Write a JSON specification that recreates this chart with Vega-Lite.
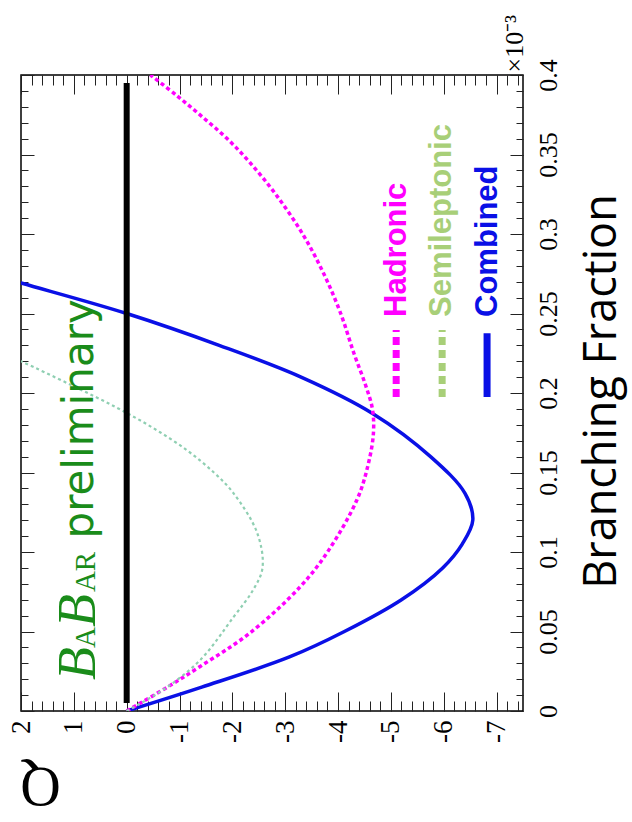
{
  "$schema": "https://vega.github.io/schema/vega-lite/v6.json",
  "width": 502,
  "height": 636,
  "autosize": {"type": "none"},
  "padding": {"left": 21, "top": 75, "right": 109, "bottom": 111},
  "background": "white",
  "config": {
    "view": {"stroke": "#000", "strokeWidth": 1.5},
    "axis": {
      "grid": false,
      "domain": false,
      "tickColor": "#222",
      "tickWidth": 1,
      "labelFlush": false,
      "labelOverlap": false,
      "labelBound": false,
      "labelColor": "#000",
      "titleColor": "#000"
    }
  },
  "datasets": {
    "curves": [
      {"series": "Combined", "bf": 0, "q": 0},
      {"series": "Combined", "bf": 0.015, "q": -1.42},
      {"series": "Combined", "bf": 0.034, "q": -3.08},
      {"series": "Combined", "bf": 0.05, "q": -4.12},
      {"series": "Combined", "bf": 0.07, "q": -5.2},
      {"series": "Combined", "bf": 0.09, "q": -5.98},
      {"series": "Combined", "bf": 0.105, "q": -6.35},
      {"series": "Combined", "bf": 0.12, "q": -6.55},
      {"series": "Combined", "bf": 0.137, "q": -6.4},
      {"series": "Combined", "bf": 0.16, "q": -5.75},
      {"series": "Combined", "bf": 0.187, "q": -4.66},
      {"series": "Combined", "bf": 0.21, "q": -3.3},
      {"series": "Combined", "bf": 0.23, "q": -1.75},
      {"series": "Combined", "bf": 0.25, "q": 0},
      {"series": "Combined", "bf": 0.269, "q": 1.98},
      {"series": "Combined", "bf": 0.275, "q": 2.6},
      {"series": "Hadronic", "bf": 0, "q": 0},
      {"series": "Hadronic", "bf": 0.014, "q": -0.72},
      {"series": "Hadronic", "bf": 0.028, "q": -1.39},
      {"series": "Hadronic", "bf": 0.049, "q": -2.33},
      {"series": "Hadronic", "bf": 0.078, "q": -3.28},
      {"series": "Hadronic", "bf": 0.1, "q": -3.8},
      {"series": "Hadronic", "bf": 0.133, "q": -4.36},
      {"series": "Hadronic", "bf": 0.155, "q": -4.57},
      {"series": "Hadronic", "bf": 0.175, "q": -4.67},
      {"series": "Hadronic", "bf": 0.19, "q": -4.65},
      {"series": "Hadronic", "bf": 0.205, "q": -4.52},
      {"series": "Hadronic", "bf": 0.225, "q": -4.3},
      {"series": "Hadronic", "bf": 0.25, "q": -4.05},
      {"series": "Hadronic", "bf": 0.275, "q": -3.73},
      {"series": "Hadronic", "bf": 0.3, "q": -3.33},
      {"series": "Hadronic", "bf": 0.325, "q": -2.82},
      {"series": "Hadronic", "bf": 0.345, "q": -2.33},
      {"series": "Hadronic", "bf": 0.36, "q": -1.9},
      {"series": "Hadronic", "bf": 0.374, "q": -1.42},
      {"series": "Hadronic", "bf": 0.387, "q": -0.95},
      {"series": "Hadronic", "bf": 0.4, "q": -0.45},
      {"series": "Semileptonic", "bf": 0, "q": 0},
      {"series": "Semileptonic", "bf": 0.014, "q": -0.72},
      {"series": "Semileptonic", "bf": 0.032, "q": -1.39},
      {"series": "Semileptonic", "bf": 0.059, "q": -2.02},
      {"series": "Semileptonic", "bf": 0.076, "q": -2.39},
      {"series": "Semileptonic", "bf": 0.09, "q": -2.57},
      {"series": "Semileptonic", "bf": 0.112, "q": -2.47},
      {"series": "Semileptonic", "bf": 0.137, "q": -2.02},
      {"series": "Semileptonic", "bf": 0.15, "q": -1.65},
      {"series": "Semileptonic", "bf": 0.164, "q": -1.14},
      {"series": "Semileptonic", "bf": 0.178, "q": -0.5},
      {"series": "Semileptonic", "bf": 0.191, "q": 0.2},
      {"series": "Semileptonic", "bf": 0.205, "q": 1.05},
      {"series": "Semileptonic", "bf": 0.22, "q": 2.0},
      {"series": "Semileptonic", "bf": 0.226, "q": 2.4}
    ],
    "zero": [{"q": 0, "lo": 0.005, "hi": 0.395}],
    "keys": [
      {"name": "Hadronic", "q": -5.1, "lo": 0.1975, "hi": 0.2396, "tq": -5.29, "tbf": 0.2478},
      {"name": "Semileptonic", "q": -5.97, "lo": 0.1975, "hi": 0.2396, "tq": -6.14, "tbf": 0.2478},
      {"name": "Combined", "q": -6.82, "lo": 0.1975, "hi": 0.2376, "tq": -7.01, "tbf": 0.2478}
    ],
    "logoBig": [
      {"t": "B", "q": 0.6, "bf": 0.0195},
      {"t": "B", "q": 0.6, "bf": 0.0528}
    ],
    "logoSmall": [
      {"t": "A", "q": 0.6, "bf": 0.0396},
      {"t": "AR", "q": 0.6, "bf": 0.0748}
    ],
    "status": [{"t": "preliminary", "q": 0.64, "bf": 0.1085}]
  },
  "resolve": {"axis": {"x": "independent", "y": "independent"}},
  "layer": [
    {
      "data": {"name": "curves"},
      "transform": [{"filter": "datum.series === 'Combined'"}],
      "mark": {"type": "line", "color": "#0a10e6", "strokeWidth": 3.5, "interpolate": "catmull-rom", "clip": true},
      "encoding": {
        "x": {
          "field": "q", "type": "quantitative",
          "scale": {"domain": [-7.5, 2], "reverse": true, "nice": false, "zero": false},
          "axis": {
            "orient": "bottom",
            "values": [2, 1, 0, -1, -2, -3, -4, -5, -6, -7],
            "tickSize": -19,
            "labelAngle": 270,
            "labelAlign": "right",
            "labelBaseline": "middle",
            "labelPadding": 28,
            "labelFont": "Liberation Serif",
            "labelFontSize": 27,
            "labelExpr": "toString(datum.value)",
            "title": "Q",
            "titleAngle": 180,
            "titleFont": "Liberation Serif",
            "titleFontSize": 56,
            "titleFontWeight": "normal",
            "titleAlign": "center",
            "titleBaseline": "middle",
            "titleX": 19,
            "titleY": 73
          }
        },
        "y": {
          "field": "bf", "type": "quantitative",
          "scale": {"domain": [0, 0.4], "nice": false, "zero": false},
          "axis": {
            "orient": "right",
            "values": [0, 0.05, 0.1, 0.15, 0.2, 0.25, 0.3, 0.35, 0.4],
            "tickSize": -13,
            "labelAngle": 270,
            "labelAlign": "center",
            "labelBaseline": "top",
            "labelPadding": 25,
            "labelFont": "Liberation Serif",
            "labelFontSize": 26,
            "labelExpr": "toString(datum.value)",
            "title": "Branching Fraction",
            "titleAngle": 270,
            "titleFont": "Open Sans",
            "titleFontSize": 45,
            "titleFontWeight": "normal",
            "titleAlign": "center",
            "titleBaseline": "alphabetic",
            "titleX": 92,
            "titleY": 316
          }
        },
        "order": {"field": "bf", "type": "quantitative"}
      }
    },
    {
      "data": {"name": "curves"},
      "transform": [{"filter": "datum.series === 'Hadronic'"}],
      "mark": {"type": "line", "color": "#ff00ff", "strokeWidth": 3.5, "strokeDash": [4, 3], "interpolate": "catmull-rom", "clip": true},
      "encoding": {
        "x": {
          "field": "q", "type": "quantitative",
          "scale": {"domain": [-7.5, 2], "reverse": true, "nice": false, "zero": false},
          "axis": {"orient": "top", "values": [2, 1, 0, -1, -2, -3, -4, -5, -6, -7], "tickSize": -19, "labels": false, "title": null}
        },
        "y": {
          "field": "bf", "type": "quantitative",
          "scale": {"domain": [0, 0.4], "nice": false, "zero": false},
          "axis": {"orient": "left", "values": [0, 0.05, 0.1, 0.15, 0.2, 0.25, 0.3, 0.35, 0.4], "tickSize": -13, "labels": false, "title": null}
        },
        "order": {"field": "bf", "type": "quantitative"}
      }
    },
    {
      "data": {"name": "curves"},
      "transform": [{"filter": "datum.series === 'Semileptonic'"}],
      "mark": {"type": "line", "color": "#8fcfb2", "strokeWidth": 2.2, "strokeDash": [3, 3], "interpolate": "catmull-rom", "clip": true},
      "encoding": {
        "x": {
          "field": "q", "type": "quantitative",
          "scale": {"domain": [-7.5, 2], "reverse": true, "nice": false, "zero": false},
          "axis": {"orient": "bottom", "tickCount": 48, "tickSize": -10, "labels": false, "title": null}
        },
        "y": {
          "field": "bf", "type": "quantitative",
          "scale": {"domain": [0, 0.4], "nice": false, "zero": false},
          "axis": {
            "orient": "right", "tickCount": 40, "tickSize": -7, "labels": false,
            "title": "×10⁻³",
            "titleAngle": 270,
            "titleFont": "Liberation Serif",
            "titleFontSize": 26,
            "titleFontWeight": "normal",
            "titleAlign": "left",
            "titleBaseline": "alphabetic",
            "titleX": -1,
            "titleY": -3
          }
        },
        "order": {"field": "bf", "type": "quantitative"}
      }
    },
    {
      "data": {"name": "zero"},
      "mark": {"type": "rule", "color": "#000", "strokeWidth": 6},
      "encoding": {
        "x": {
          "field": "q", "type": "quantitative",
          "scale": {"domain": [-7.5, 2], "reverse": true, "nice": false, "zero": false},
          "axis": {"orient": "top", "tickCount": 48, "tickSize": -10, "labels": false, "title": null}
        },
        "y": {
          "field": "lo", "type": "quantitative",
          "scale": {"domain": [0, 0.4], "nice": false, "zero": false},
          "axis": {"orient": "left", "tickCount": 40, "tickSize": -7, "labels": false, "title": null}
        },
        "y2": {"field": "hi"}
      }
    },
    {
      "data": {"name": "keys"},
      "mark": {"type": "rule", "strokeWidth": 7, "strokeCap": "butt"},
      "encoding": {
        "x": {"field": "q", "type": "quantitative", "scale": {"domain": [-7.5, 2], "reverse": true, "nice": false, "zero": false}, "axis": null},
        "y": {"field": "lo", "type": "quantitative", "scale": {"domain": [0, 0.4], "nice": false, "zero": false}, "axis": null},
        "y2": {"field": "hi"},
        "color": {
          "field": "name", "type": "nominal",
          "scale": {"domain": ["Hadronic", "Semileptonic", "Combined"], "range": ["#ff00ff", "#a8cf78", "#0a10e6"]},
          "legend": null
        },
        "strokeDash": {
          "field": "name", "type": "nominal",
          "scale": {"domain": ["Hadronic", "Semileptonic", "Combined"], "range": [[8, 5], [8, 5], [1, 0]]},
          "legend": null
        }
      }
    },
    {
      "data": {"name": "keys"},
      "mark": {"type": "text", "angle": 270, "align": "left", "baseline": "alphabetic", "font": "Liberation Sans", "fontSize": 31, "fontWeight": "bold"},
      "encoding": {
        "x": {"field": "tq", "type": "quantitative", "scale": {"domain": [-7.5, 2], "reverse": true, "nice": false, "zero": false}, "axis": null},
        "y": {"field": "tbf", "type": "quantitative", "scale": {"domain": [0, 0.4], "nice": false, "zero": false}, "axis": null},
        "text": {"field": "name"},
        "color": {
          "field": "name", "type": "nominal",
          "scale": {"domain": ["Hadronic", "Semileptonic", "Combined"], "range": ["#ff00ff", "#a8cf78", "#0a10e6"]},
          "legend": null
        }
      }
    },
    {
      "data": {"name": "logoBig"},
      "mark": {"type": "text", "angle": 270, "align": "left", "baseline": "alphabetic", "font": "Liberation Serif", "fontSize": 54, "fontStyle": "italic", "color": "#1a8c1a"},
      "encoding": {
        "x": {"field": "q", "type": "quantitative", "scale": {"domain": [-7.5, 2], "reverse": true, "nice": false, "zero": false}, "axis": null},
        "y": {"field": "bf", "type": "quantitative", "scale": {"domain": [0, 0.4], "nice": false, "zero": false}, "axis": null},
        "text": {"field": "t"}
      }
    },
    {
      "data": {"name": "logoSmall"},
      "mark": {"type": "text", "angle": 270, "align": "left", "baseline": "alphabetic", "font": "Liberation Serif", "fontSize": 29, "color": "#1a8c1a"},
      "encoding": {
        "x": {"field": "q", "type": "quantitative", "scale": {"domain": [-7.5, 2], "reverse": true, "nice": false, "zero": false}, "axis": null},
        "y": {"field": "bf", "type": "quantitative", "scale": {"domain": [0, 0.4], "nice": false, "zero": false}, "axis": null},
        "text": {"field": "t"}
      }
    },
    {
      "data": {"name": "status"},
      "mark": {"type": "text", "angle": 270, "align": "left", "baseline": "alphabetic", "font": "DejaVu Sans", "fontSize": 42, "color": "#1a8c1a"},
      "encoding": {
        "x": {"field": "q", "type": "quantitative", "scale": {"domain": [-7.5, 2], "reverse": true, "nice": false, "zero": false}, "axis": null},
        "y": {"field": "bf", "type": "quantitative", "scale": {"domain": [0, 0.4], "nice": false, "zero": false}, "axis": null},
        "text": {"field": "t"}
      }
    }
  ]
}
